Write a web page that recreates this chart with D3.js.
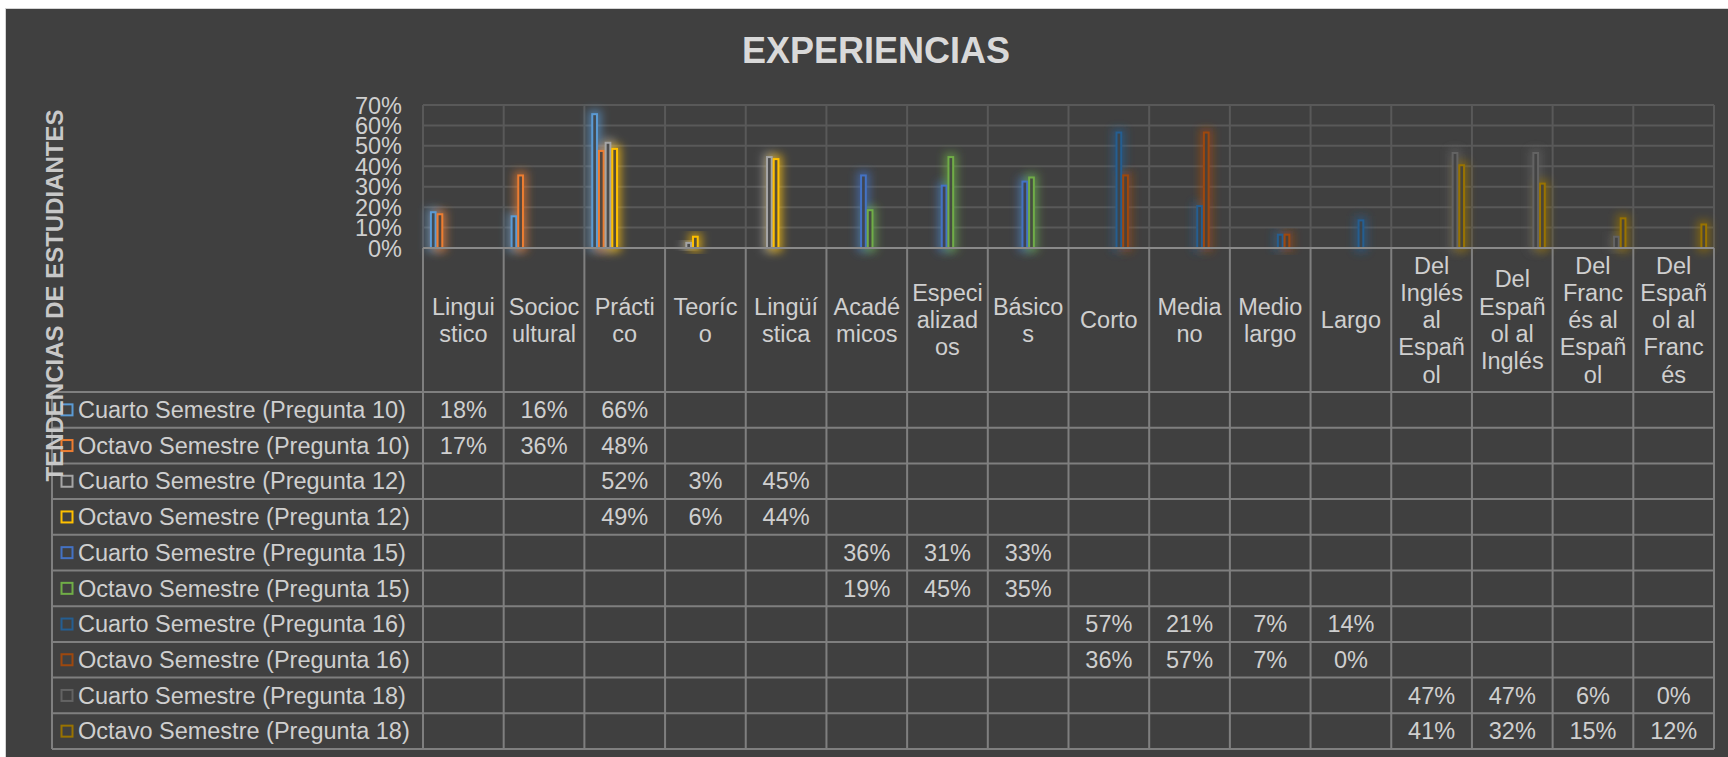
<!DOCTYPE html>
<html>
<head>
<meta charset="utf-8">
<script src="https://cdn.jsdelivr.net/npm/d3@7"></script>
<style>
  html, body { margin: 0; padding: 0; background: #ffffff; }
  svg { display: block; }
  text { font-family: "Liberation Sans", Arial, sans-serif; }
</style>
</head>
<body>
<svg id="chart" width="1728" height="757"></svg>
<script>
// ---------------- DATA ----------------
const categories = [
  "Linguistico", "Sociocultural", "Práctico", "Teoríco", "Lingüística",
  "Académicos", "Especializados", "Básicos", "Corto", "Mediano",
  "Medio largo", "Largo", "Del Inglés al Español", "Del Español al Inglés",
  "Del Francés al Español", "Del Español al Francés"
];
// wrapped header labels as they appear in the data table
const headerLabels = [
  ["Lingui", "stico"], ["Socioc", "ultural"], ["Prácti", "co"], ["Teoríc", "o"],
  ["Lingüí", "stica"], ["Acadé", "micos"], ["Especi", "alizad", "os"], ["Básico", "s"],
  ["Corto"], ["Media", "no"], ["Medio", "largo"], ["Largo"],
  ["Del", "Inglés", "al", "Españ", "ol"], ["Del", "Españ", "ol al", "Inglés"],
  ["Del", "Franc", "és al", "Españ", "ol"], ["Del", "Españ", "ol al", "Franc", "és"]
];
const seriesNames = [
  "Cuarto Semestre (Pregunta 10)", "Octavo Semestre (Pregunta 10)",
  "Cuarto Semestre (Pregunta 12)", "Octavo Semestre (Pregunta 12)",
  "Cuarto Semestre (Pregunta 15)", "Octavo Semestre (Pregunta 15)",
  "Cuarto Semestre (Pregunta 16)", "Octavo Semestre (Pregunta 16)",
  "Cuarto Semestre (Pregunta 18)", "Octavo Semestre (Pregunta 18)"
];
const seriesColors = [
  "#5B9BD5", "#ED7D31", "#A5A5A5", "#FFC000", "#4472C4",
  "#70AD47", "#255E91", "#9E480E", "#636363", "#997300"
];
const _ = null;
const cuartoP10 = [0.18, 0.16, 0.66, _, _, _, _, _, _, _, _, _, _, _, _, _];
const octavoP10 = [0.17, 0.36, 0.48, _, _, _, _, _, _, _, _, _, _, _, _, _];
const cuartoP12 = [_, _, 0.52, 0.03, 0.45, _, _, _, _, _, _, _, _, _, _, _];
const octavoP12 = [_, _, 0.49, 0.06, 0.44, _, _, _, _, _, _, _, _, _, _, _];
const cuartoP15 = [_, _, _, _, _, 0.36, 0.31, 0.33, _, _, _, _, _, _, _, _];
const octavoP15 = [_, _, _, _, _, 0.19, 0.45, 0.35, _, _, _, _, _, _, _, _];
const cuartoP16 = [_, _, _, _, _, _, _, _, 0.57, 0.21, 0.07, 0.14, _, _, _, _];
const octavoP16 = [_, _, _, _, _, _, _, _, 0.36, 0.57, 0.07, 0.00, _, _, _, _];
const cuartoP18 = [_, _, _, _, _, _, _, _, _, _, _, _, 0.47, 0.47, 0.06, 0.00];
const octavoP18 = [_, _, _, _, _, _, _, _, _, _, _, _, 0.41, 0.32, 0.15, 0.12];
const seriesValues = [cuartoP10, octavoP10, cuartoP12, octavoP12, cuartoP15,
                      octavoP15, cuartoP16, octavoP16, cuartoP18, octavoP18];
const yTicks = [0, 0.1, 0.2, 0.3, 0.4, 0.5, 0.6, 0.7];
const chartTitle = "EXPERIENCIAS";
const axisTitle = "TENDENCIAS DE ESTUDIANTES";

// ---------------- LAYOUT ----------------
const svg = d3.select("#chart");
const plotLeft = 423, plotRight = 1714, plotTop = 105, plotBottom = 248;
const headerBottom = 392, rowH = 35.7, tableLeft = 52;
const textColor = "#cfcfcf";
const fontSize = 23.5;

const x = d3.scaleBand().domain(categories).range([plotLeft, plotRight]).padding(0);
const xs = d3.scaleBand().domain(seriesNames).range([0, x.bandwidth()])
  .paddingInner(0).paddingOuter(1.03);
const y = d3.scaleLinear().domain([0, 0.7]).range([plotBottom, plotTop]);

// defs
const defs = svg.append("defs");
const blur = defs.append("filter").attr("id", "glow")
  .attr("x", "-300%").attr("y", "-50%").attr("width", "700%").attr("height", "200%");
blur.append("feGaussianBlur").attr("stdDeviation", 4);

// panel
svg.append("rect").attr("x", 5.5).attr("y", 8.5).attr("width", 1740).attr("height", 770)
  .attr("fill", "#404040").attr("stroke", "#d4d4d4").attr("stroke-width", 1);

// title
svg.append("text").attr("x", 876).attr("y", 63).attr("text-anchor", "middle")
  .attr("font-size", 36).attr("font-weight", "bold").attr("fill", "#d9d9d9")
  .text(chartTitle);

// gridlines (plot area)
const grid = svg.append("g");
grid.selectAll("line.h").data(yTicks.slice(1)).join("line")
  .attr("x1", plotLeft).attr("x2", plotRight)
  .attr("y1", d => y(d)).attr("y2", d => y(d))
  .attr("stroke", "#595959").attr("stroke-width", 2);
const bounds = categories.map(c => x(c)).concat([plotRight]);
grid.selectAll("line.v").data(bounds).join("line")
  .attr("x1", d => d).attr("x2", d => d)
  .attr("y1", plotTop).attr("y2", plotBottom)
  .attr("stroke", "#595959").attr("stroke-width", 2);

// y axis labels
const yAxis = d3.axisLeft(y).tickValues(yTicks).tickFormat(d3.format(".0%")).tickSize(0).tickPadding(0);
const yg = svg.append("g").attr("transform", `translate(402,0)`).call(yAxis);
yg.select(".domain").remove();
yg.selectAll("text").attr("font-size", fontSize).attr("fill", textColor)
  .attr("font-family", "'Liberation Sans', Arial, sans-serif").attr("dy", "0.34em");

// bars
const barData = [];
seriesValues.forEach((arr, si) => arr.forEach((v, ci) => {
  if (v !== null) barData.push({ s: seriesNames[si], c: categories[ci], v, color: seriesColors[si] });
}));
const bw = xs.bandwidth();
const barG = svg.append("g");
barG.selectAll("rect.glow").data(barData.filter(d => d.v > 0)).join("rect")
  .attr("x", d => x(d.c) + xs(d.s) + 1)
  .attr("y", d => y(d.v) + 1)
  .attr("width", bw - 2)
  .attr("height", d => y(0) - y(d.v) - 1)
  .attr("fill", d => d.color).attr("fill-opacity", 0.35)
  .attr("stroke", d => d.color).attr("stroke-width", 9)
  .attr("stroke-opacity", 0.55).attr("filter", "url(#glow)");
barG.selectAll("rect.bar").data(barData.filter(d => d.v > 0)).join("rect")
  .attr("x", d => x(d.c) + xs(d.s) + 1)
  .attr("y", d => y(d.v) + 1)
  .attr("width", bw - 2)
  .attr("height", d => y(0) - y(d.v) - 1)
  .attr("fill", d => d3.interpolateRgb("#404040", d.color)(0.12))
  .attr("stroke", d => d.color).attr("stroke-width", 2);

// ---------------- DATA TABLE ----------------
const tbl = svg.append("g");
const tableColor = "#7f7f7f";
const rowsTop = headerBottom;
const tableBottom = rowsTop + rowH * seriesNames.length;
// horizontal row lines
const rowLines = d3.range(seriesNames.length + 1).map(i => rowsTop + i * rowH);
tbl.selectAll("line.r").data(rowLines).join("line")
  .attr("x1", tableLeft).attr("x2", plotRight)
  .attr("y1", d => d).attr("y2", d => d)
  .attr("stroke", tableColor).attr("stroke-width", 2);
// vertical lines
tbl.selectAll("line.c").data(bounds).join("line")
  .attr("x1", d => d).attr("x2", d => d)
  .attr("y1", plotBottom).attr("y2", tableBottom)
  .attr("stroke", tableColor).attr("stroke-width", 2);
tbl.append("line").attr("x1", tableLeft).attr("x2", tableLeft)
  .attr("y1", rowsTop).attr("y2", tableBottom)
  .attr("stroke", tableColor).attr("stroke-width", 2);
// axis line
tbl.append("line").attr("x1", plotLeft).attr("x2", plotRight)
  .attr("y1", plotBottom).attr("y2", plotBottom)
  .attr("stroke", "#8a8a8a").attr("stroke-width", 2);

// header labels
const headerMid = (plotBottom + headerBottom) / 2;
const lineH = 27.2;
categories.forEach((c, ci) => {
  const lines = headerLabels[ci];
  const t = tbl.append("text").attr("text-anchor", "middle")
    .attr("font-size", fontSize).attr("fill", textColor);
  lines.forEach((ln, li) => {
    t.append("tspan").attr("x", x(c) + x.bandwidth() / 2)
      .attr("y", headerMid + (li - (lines.length - 1) / 2) * lineH)
      .attr("dy", "0.35em").text(ln);
  });
});

// row labels with legend keys
seriesNames.forEach((s, si) => {
  const cy = rowsTop + si * rowH + rowH / 2;
  tbl.append("rect").attr("x", 61.5).attr("y", cy - 5.5).attr("width", 11).attr("height", 11)
    .attr("fill", "none").attr("stroke", seriesColors[si]).attr("stroke-width", 2);
  tbl.append("text").attr("x", 78).attr("y", cy).attr("dy", "0.35em")
    .attr("font-size", fontSize).attr("fill", textColor).text(s);
});

// values
const fmt = d3.format(".0%");
tbl.selectAll("text.v").data(barData).join("text")
  .attr("x", d => x(d.c) + x.bandwidth() / 2)
  .attr("y", d => rowsTop + seriesNames.indexOf(d.s) * rowH + rowH / 2)
  .attr("dy", "0.35em").attr("text-anchor", "middle")
  .attr("font-size", fontSize).attr("fill", textColor)
  .text(d => fmt(d.v));

// vertical axis title (drawn last, overlaps the legend like the original)
svg.append("text").attr("transform", "translate(62.5,295.5) rotate(-90)")
  .attr("text-anchor", "middle").attr("font-size", 24).attr("font-weight", "bold")
  .attr("fill", "#c8c8c8").text(axisTitle);
</script>
</body>
</html>
